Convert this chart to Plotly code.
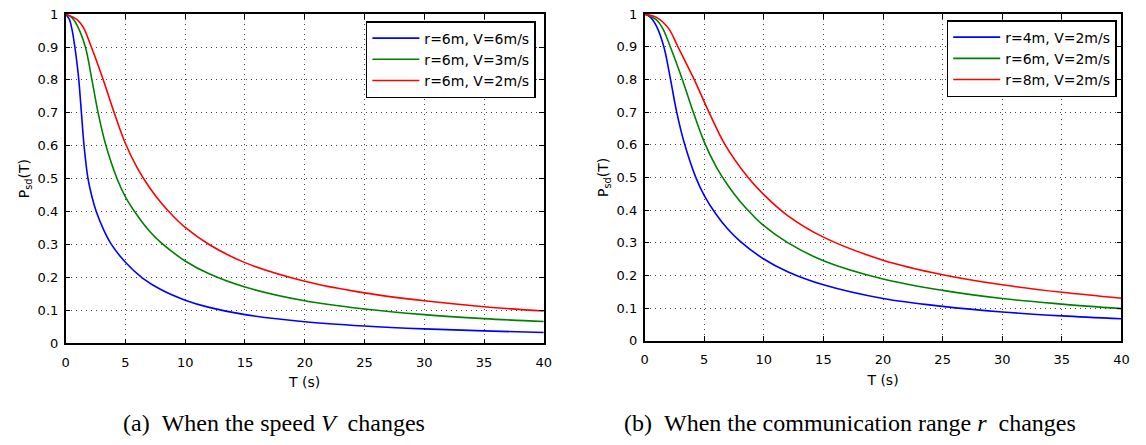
import plotly.graph_objects as go

# ---- data (T in s, P_sd(T)) ----
# (a) speed V changes, r = 6 m
T_a_v6 = [0, 0.3, 0.55, 0.77, 0.95, 1.1, 1.32, 1.54, 1.87, 2.2, 2.56, 3.2, 3.8, 5, 6.4, 8, 10, 12, 15, 20, 25, 30, 35, 40]
P_a_v6 = [1, 0.985, 0.95, 0.9, 0.85, 0.8, 0.7, 0.6, 0.5, 0.445, 0.4, 0.343, 0.302, 0.246, 0.199, 0.1625, 0.131, 0.109, 0.087, 0.0655, 0.0525, 0.0437, 0.0375, 0.0328]

T_a_v3 = [0, 0.5, 1, 1.65, 2.2, 2.7, 3.3, 4.3, 5, 6, 7, 8, 10, 12, 15, 20, 25, 30, 35, 40]
P_a_v3 = [1, 0.99, 0.963, 0.9, 0.8, 0.703, 0.61, 0.5, 0.445, 0.388, 0.341, 0.305, 0.25, 0.211, 0.171, 0.129, 0.104, 0.087, 0.075, 0.066]

T_a_v2 = [0, 1, 1.5, 2.15, 3.15, 4.02, 5, 6, 7, 8, 9, 10, 12, 15, 20, 25, 30, 35, 40]
P_a_v2 = [1, 0.982, 0.958, 0.9, 0.8, 0.705, 0.607, 0.532, 0.474, 0.426, 0.386, 0.352, 0.3, 0.245, 0.1885, 0.153, 0.129, 0.111, 0.098]

# (b) communication range r changes, V = 2 m/s
T_b_r4 = [0, 0.5, 1, 1.62, 2.18, 2.68, 3.3, 4.3, 5, 6, 7, 8, 10, 12, 15, 20, 25, 30, 35, 40]
P_b_r4 = [1, 0.99, 0.963, 0.9, 0.8, 0.703, 0.61, 0.5, 0.445, 0.387, 0.341, 0.305, 0.25, 0.211, 0.171, 0.129, 0.105, 0.088, 0.076, 0.067]

T_b_r6 = [0, 1, 1.5, 2.16, 3.17, 4.04, 5.02, 6, 7, 8, 9, 10, 12, 15, 20, 25, 30, 35, 40]
P_b_r6 = [1, 0.982, 0.958, 0.9, 0.8, 0.705, 0.607, 0.533, 0.475, 0.427, 0.387, 0.352, 0.3, 0.245, 0.189, 0.154, 0.129, 0.112, 0.098]

T_b_r8 = [0, 1, 2, 2.8, 4.16, 5.4, 6.75, 8.67, 10, 12, 15, 20, 25, 30, 35, 40]
P_b_r8 = [1, 0.99, 0.957, 0.9, 0.8, 0.7, 0.6, 0.5, 0.447, 0.383, 0.317, 0.2465, 0.202, 0.171, 0.148, 0.13]

x_ticks = [0, 5, 10, 15, 20, 25, 30, 35, 40]
y_ticks = [0, 0.1, 0.2, 0.3, 0.4, 0.5, 0.6, 0.7, 0.8, 0.9, 1]
y_ticktext = ["0", "0.1", "0.2", "0.3", "0.4", "0.5", "0.6", "0.7", "0.8", "0.9", "1"]

labels_a = ["r=6m, V=6m/s", "r=6m, V=3m/s", "r=6m, V=2m/s"]
labels_b = ["r=4m, V=2m/s", "r=6m, V=2m/s", "r=8m, V=2m/s"]
colors = ["#0000ff", "#008000", "#ff0000"]

captions = ["(a)\u00a0\u00a0When the speed\u00a0<i>V</i>\u00a0\u00a0changes",
            "(b)\u00a0\u00a0When the communication range\u00a0<i>r</i>\u00a0\u00a0changes"]

SANS = "DejaVu Sans"
SERIF = "Liberation Serif"

fig = go.Figure()

series_a = [(T_a_v6, P_a_v6), (T_a_v3, P_a_v3), (T_a_v2, P_a_v2)]
series_b = [(T_b_r4, P_b_r4), (T_b_r6, P_b_r6), (T_b_r8, P_b_r8)]

for (t, p), name, c in zip(series_a, labels_a, colors):
    fig.add_trace(go.Scatter(x=t, y=p, mode="lines", name=name,
                             line=dict(color=c, width=1.6, shape="spline", smoothing=1.0),
                             xaxis="x", yaxis="y", legend="legend"))
for (t, p), name, c in zip(series_b, labels_b, colors):
    fig.add_trace(go.Scatter(x=t, y=p, mode="lines", name=name,
                             line=dict(color=c, width=1.6, shape="spline", smoothing=1.0),
                             xaxis="x2", yaxis="y2", legend="legend2"))

W, H = 1146, 445

def xaxis(domain, anchor):
    return dict(domain=domain, anchor=anchor, range=[0, 40], tickvals=x_ticks,
                showline=True, linecolor="black", linewidth=1.5, mirror="allticks",
                ticks="inside", ticklen=5, tickwidth=1, tickcolor="black",
                showgrid=True, gridcolor="rgb(70,70,70)", gridwidth=1, griddash="1px,4px",
                zeroline=False, ticklabelstandoff=6, ticklabeloverflow="allow",
                tickfont=dict(family=SANS, size=13, color="black"),
                title=dict(text="T (s)", font=dict(family=SANS, size=14, color="black"), standoff=9))

def yaxis(domain, anchor):
    return dict(domain=domain, anchor=anchor, range=[0, 1.0001], tickvals=y_ticks, ticktext=y_ticktext,
                showline=True, linecolor="black", linewidth=1.5, mirror="allticks",
                ticks="inside", ticklen=5, tickwidth=1, tickcolor="black",
                showgrid=True, gridcolor="rgb(70,70,70)", gridwidth=1, griddash="1px,4px",
                zeroline=False, ticklabelstandoff=3, ticklabeloverflow="allow",
                tickfont=dict(family=SANS, size=13, color="black"),
                title=dict(text="P<sub>sd</sub>(T)", font=dict(family=SANS, size=14, color="black"), standoff=5))

legend_style = dict(bgcolor="white", bordercolor="black", borderwidth=1.5,
                    font=dict(family=SANS, size=14, color="black"),
                    xanchor="right", yanchor="top", tracegroupgap=0, itemwidth=47)

fig.update_layout(
    width=W, height=H, margin=dict(l=0, r=0, t=0, b=0),
    paper_bgcolor="white", plot_bgcolor="white",
    xaxis=xaxis([62.3 / W, 545.5 / W], "y"),
    yaxis=yaxis([1 - 348 / H, 1 - 7.3 / H], "x"),
    xaxis2=xaxis([647.3 / W, 1129.3 / W], "y2"),
    yaxis2=yaxis([1 - 345.3 / H, 1 - 7.3 / H], "x2"),
    legend=dict(x=537.5 / W, y=1 - 14.5 / H, **legend_style),
    legend2=dict(x=1124.5 / W, y=1 - 13.5 / H, **legend_style),
    showlegend=True,
    annotations=[
        dict(text=captions[0], xref="paper", yref="paper", x=273 / W, y=1 - 431 / H,
             xanchor="center", yanchor="middle", showarrow=False,
             font=dict(family=SERIF, size=24, color="black")),
        dict(text=captions[1], xref="paper", yref="paper", x=855 / W, y=1 - 431 / H,
             xanchor="center", yanchor="middle", showarrow=False,
             font=dict(family=SERIF, size=24, color="black")),
    ],
)

fig.write_html("out.html")
